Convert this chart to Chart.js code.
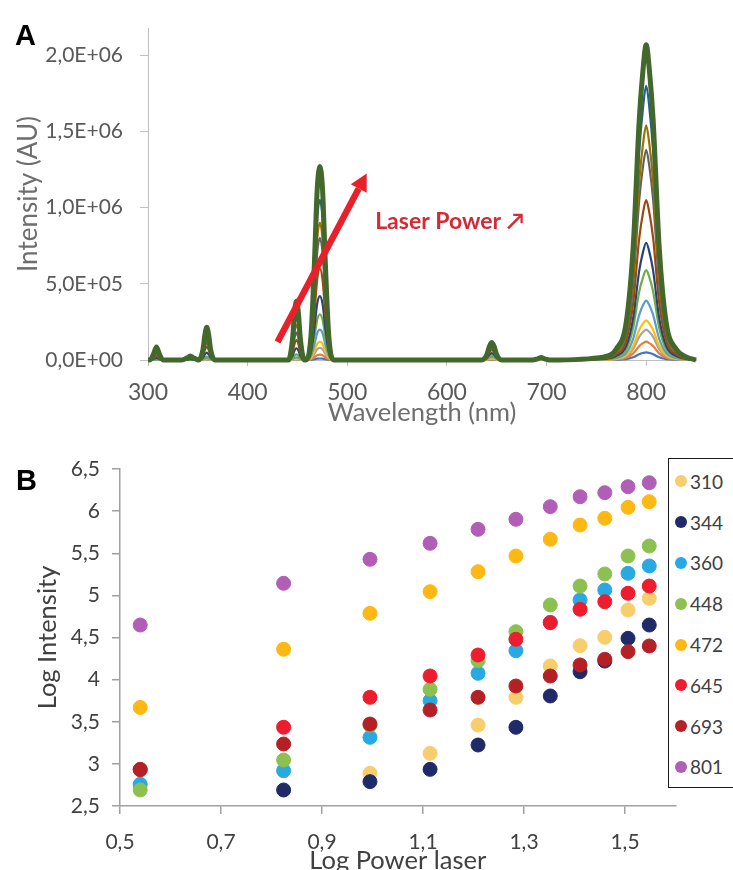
<!DOCTYPE html>
<html>
<head>
<meta charset="utf-8">
<script src="https://cdn.jsdelivr.net/npm/chart.js@4.4.1/dist/chart.umd.min.js"></script>
<style>
html,body{margin:0;padding:0;background:#fff;overflow:hidden;width:733px;height:870px;}
#wrap{position:relative;width:733px;height:870px;overflow:hidden;}
canvas{position:absolute;left:0;}
#cA{top:0;}
#cB{top:440px;}
.panel{position:absolute;font-family:"Liberation Sans",Arial,sans-serif;font-weight:bold;font-size:29px;color:#000;line-height:1;}
#legend{position:absolute;left:668px;top:458px;width:120px;height:330px;border:1.5px solid #1a1a1a;box-sizing:border-box;padding-top:2px;font-family:Lato,sans-serif;font-size:19px;color:#404040;background:#fff;}
.item{height:40.8px;display:flex;align-items:center;}
.dot{width:12px;height:12px;border-radius:50%;margin-left:6px;margin-right:3px;flex:none;}
</style>
</head>
<body>
<div id="wrap">
  <canvas id="cA" width="733" height="440"></canvas>
  <canvas id="cB" width="733" height="440"></canvas>
  <div class="panel" style="left:15px;top:21px;">A</div>
  <div class="panel" style="left:16px;top:466px;">B</div>
  <div id="legend"></div>
</div>
<script>
// ---------- Panel A data: emission spectra (wavelength in nm, intensity in AU) ----------
const wavelengths = [300,302,305.5,308.5,311.5,315, 334,339,342.5,346,350, 351,355,357.3,359,360.7,363,367, 400,
  441,445,447.3,449,450.7,453,457, 458.5,463.5,467,469.8,472.5,475.2,478,481.5,486.5, 500,600,
  635,640,642.8,645,647.2,650,655, 686,691,694.5,698,703,
  758,770,780,787,793,796.8,800,803.2,807,813,820,830,840,850];
const wavelengthTicks = [300,400,500,600,700,800];
const intensityTicksA = [0,500000,1000000,1500000,2000000];

const spectrum1 = [0,0,0,0,0,0, 0,0,0,0,0, 0,150,400,500,400,150,0, 0,
  0,175,425,500,425,175,0, 0,1200,5000,8800,10000,8800,5000,1200,0, 0,0,
  0,270,720,900,720,270,0, 0,400,800,400,0,
  500,1750,6000,18000,38000,46000,50000,46000,38000,18000,6000,1750,500,0];
const spectrum2 = [0,0,50,100,50,0, 0,250,500,250,25, 0,240,640,800,640,240,0, 0,
  0,400,950,1100,950,400,0, 0,4200,17500,30800,35000,30800,17500,4200,0, 0,0,
  0,800,2150,2700,2150,800,0, 0,750,1500,750,0,
  1200,4200,14400,43200,91200,110400,120000,110400,91200,43200,14400,4200,1200,0];
const spectrum3 = [0,0,360,800,360,0, 0,300,600,300,30, 0,600,1600,2000,1600,600,0, 0,
  0,1050,2550,3000,2550,1050,0, 0,9600,40000,70400,80000,70400,40000,9600,0, 0,0,
  0,1800,4800,6000,4800,1800,0, 0,1500,3000,1500,0,
  2000,7000,24000,72000,152000,184000,200000,184000,152000,72000,24000,7000,2000,0];
const spectrum4 = [0,0,600,1300,600,0, 0,450,900,450,45, 0,2000,5300,6600,5300,2000,0, 0,
  0,2700,6550,7700,6550,2700,0, 0,14400,60000,105600,120000,105600,60000,14400,0, 0,0,
  0,3300,8800,11000,8800,3300,0, 0,2000,4000,2000,0,
  2600,9100,31200,93600,197600,239200,260000,239200,197600,93600,31200,9100,2600,0];
const spectrum5 = [0,0,1350,3000,1350,0, 0,850,1700,850,85, 0,3600,9600,12000,9600,3600,0, 0,
  0,5950,14450,17000,14450,5950,0, 0,24000,100000,176000,200000,176000,100000,24000,0, 0,0,
  0,6000,16000,20000,16000,6000,0, 0,3000,6000,3000,0,
  3900,13650,46800,140400,296400,358800,390000,358800,296400,140400,46800,13650,3900,0];
const spectrum6 = [0,0,2700,6000,2700,0, 0,1350,2700,1350,135, 0,6600,17600,22000,17600,6600,0, 0,
  0,12950,31450,37000,31450,12950,0, 0,36000,150000,264000,300000,264000,150000,36000,0, 0,0,
  0,9000,24000,30000,24000,9000,0, 0,4000,8000,4000,0,
  5900,20650,70800,212400,448400,542800,590000,542800,448400,212400,70800,20650,5900,0];
const spectrum7 = [0,0,6300,14000,6300,0, 0,3000,6000,3000,300, 0,14400,38400,48000,38400,14400,0, 0,
  0,26950,65450,77000,65450,26950,0, 0,50400,210000,369600,420000,369600,210000,50400,0, 0,0,
  0,13500,36000,45000,36000,13500,0, 0,5000,10000,5000,0,
  7700,26950,92400,277200,585200,708400,770000,708400,585200,277200,92400,26950,7700,0];
const spectrum8 = [0,0,11250,25000,11250,0, 0,5500,11000,5500,550, 0,26400,70400,88000,70400,26400,0, 0,
  0,45500,110500,130000,110500,45500,0, 0,72000,300000,528000,600000,528000,300000,72000,0, 0,0,
  0,19500,52000,65000,52000,19500,0, 0,6000,12000,6000,0,
  10500,36750,126000,378000,798000,966000,1050000,966000,798000,378000,126000,36750,10500,0];
const spectrum9 = [0,0,14400,32000,14400,0, 0,7500,15000,7500,750, 0,34500,92000,115000,92000,34500,0, 0,
  0,63000,153000,180000,153000,63000,0, 0,96000,400000,704000,800000,704000,400000,96000,0, 0,0,
  0,24000,64000,80000,64000,24000,0, 0,7000,14000,7000,0,
  13800,48300,165600,496800,1048800,1269600,1380000,1269600,1048800,496800,165600,48300,13800,0];
const spectrum10 = [0,0,22500,50000,22500,0, 0,9000,18000,9000,900, 0,42000,112000,140000,112000,42000,0, 0,
  0,80500,195500,230000,195500,80500,0, 0,108000,450000,792000,900000,792000,450000,108000,0, 0,0,
  0,27000,72000,90000,72000,27000,0, 0,8000,16000,8000,0,
  15400,53900,184800,554400,1170400,1416800,1540000,1416800,1170400,554400,184800,53900,15400,0];
const spectrum11 = [0,0,29000,65000,29000,0, 0,11000,22000,11000,1100, 0,54000,144000,180000,144000,54000,0, 0,
  0,101500,246500,290000,246500,101500,0, 0,126000,525000,924000,1050000,924000,525000,126000,0, 0,0,
  0,31500,84000,105000,84000,31500,0, 0,9000,18000,9000,0,
  18000,63000,216000,648000,1368000,1656000,1800000,1656000,1368000,648000,216000,63000,18000,0];
const spectrum12 = [0,0,38000,85000,38000,0, 0,13000,26000,13000,1300, 0,64000,172000,215000,172000,64000,0, 0,
  0,135000,327000,385000,327000,135000,0, 0,152400,635000,1117600,1270000,1117600,635000,152400,0, 0,0,
  0,34500,92000,115000,92000,34500,0, 0,8000,16000,8000,0,
  20700,72450,248400,745200,1573200,1904400,2070000,1904400,1573200,745200,248400,72450,20700,0];

// ---------- Panel B data: log intensity vs log laser power ----------
const logPower = [0.54, 0.824, 0.995, 1.114, 1.209, 1.284, 1.352, 1.411, 1.460, 1.506, 1.548];
const peakLabels = ['310','344','360','448','472','645','693','801'];
const log310 = [null, null, 2.888, 3.125, 3.461, 3.79, 4.162, 4.403, 4.502, 4.826, 4.965];
const log344 = [null, 2.69, 2.789, 2.935, 3.224, 3.434, 3.806, 4.094, 4.22, 4.49, 4.648];
const log360 = [2.757, 2.919, 3.315, 3.75, 4.075, 4.343, 4.68, 4.945, 5.064, 5.262, 5.349];
const log448 = [2.69, 3.046, 3.46, 3.885, 4.225, 4.569, 4.886, 5.111, 5.254, 5.467, 5.586];
const log472 = [3.67, 4.36, 4.787, 5.044, 5.281, 5.467, 5.666, 5.835, 5.915, 6.045, 6.112];
const log645 = [2.93, 3.434, 3.79, 4.043, 4.292, 4.479, 4.676, 4.835, 4.925, 5.025, 5.111];
const log693 = [2.935, 3.236, 3.473, 3.639, 3.79, 3.924, 4.043, 4.174, 4.241, 4.332, 4.399];
const log801 = [4.648, 5.143, 5.428, 5.618, 5.784, 5.903, 6.053, 6.171, 6.219, 6.29, 6.337];
const powerTicks = [0.5, 0.7, 0.9, 1.1, 1.3, 1.5];
const logIntensityTicks = [2.5, 3, 3.5, 4, 4.5, 5, 5.5, 6, 6.5];

// ---------- styles ----------
const spectrumColors = ['#4472C4','#ED7D31','#A5A5A5','#FFC000','#5B9BD5','#70AD47','#264478','#9E480E','#636363','#997300','#255E91','#43682B'];
const peakColors = ['#F8CD6B','#1F2A68','#29A9E1','#8CC152','#FDB813','#ED1C2E','#B52025','#B15FB6'];

const spectra = [spectrum1,spectrum2,spectrum3,spectrum4,spectrum5,spectrum6,spectrum7,spectrum8,spectrum9,spectrum10,spectrum11,spectrum12];
const peakSeries = [log310,log344,log360,log448,log472,log645,log693,log801];

function sciComma(v){
  if (v === 0) return '0,0E+00';
  const parts = v.toExponential(1).split('e');
  const n = parseInt(parts[1],10);
  return parts[0].replace('.',',') + 'E' + (n<0?'-':'+') + String(Math.abs(n)).padStart(2,'0');
}
function comma(v){ return String(Number(v.toFixed(2))).replace('.',','); }

// annotation: red arrow + "Laser Power" label, placed in data coordinates
const laserArrow = {
  id: 'laserArrow',
  afterDatasetsDraw(chart){
    const {ctx, scales:{x,y}} = chart;
    const x0 = x.getPixelForValue(430), y0 = y.getPixelForValue(118000);
    const x1 = x.getPixelForValue(519.5), y1 = y.getPixelForValue(1225000);
    const ang = Math.atan2(y1-y0, x1-x0);
    const headLen = 17, headHalf = 9;
    const bx = x1 - headLen*Math.cos(ang), by = y1 - headLen*Math.sin(ang);
    ctx.save();
    ctx.strokeStyle = '#E8202A';
    ctx.fillStyle = '#E8202A';
    ctx.lineWidth = 6.5;
    ctx.lineCap = 'butt';
    ctx.beginPath(); ctx.moveTo(x0,y0); ctx.lineTo(bx,by); ctx.stroke();
    ctx.beginPath();
    ctx.moveTo(x1,y1);
    ctx.lineTo(bx + headHalf*Math.sin(ang), by - headHalf*Math.cos(ang));
    ctx.lineTo(bx - headHalf*Math.sin(ang), by + headHalf*Math.cos(ang));
    ctx.closePath(); ctx.fill();
    ctx.fillStyle = '#D42A35';
    ctx.font = 'bold 23px Lato, "DejaVu Sans", sans-serif';
    ctx.textAlign = 'left';
    ctx.textBaseline = 'middle';
    ctx.fillText('Laser Power \u2197', x.getPixelForValue(528), y.getPixelForValue(907000));
    ctx.restore();
  }
};

new Chart(document.getElementById('cA'), {
  type: 'line',
  data: {
    datasets: spectra.map((arr, i) => ({
      label: 'Spectrum ' + (i+1),
      data: wavelengths.map((w, j) => ({x: w, y: arr[j]})),
      borderColor: spectrumColors[i],
      backgroundColor: spectrumColors[i],
      borderWidth: i === spectra.length-1 ? 5 : 2.2,
      pointRadius: 0,
      tension: 0.4,
      cubicInterpolationMode: 'monotone',
      fill: false,
      clip: false,
      order: spectra.length - 1 - i
    }))
  },
  options: {
    responsive: false,
    animation: false,
    devicePixelRatio: 1,
    events: [],
    layout: {padding: {top: 28, right: 37, bottom: 12, left: 0}},
    plugins: {legend: {display: false}, tooltip: {enabled: false}},
    scales: {
      x: {
        type: 'linear', min: 300, max: 850,
        afterBuildTicks: a => { a.ticks = wavelengthTicks.map(v => ({value: v})); },
        afterFit: s => { s.height = 68; s.paddingLeft = 0; s.paddingRight = 0; },
        border: {color: '#BFBFBF', width: 1},
        grid: {drawOnChartArea: false, drawTicks: true, tickLength: 6, color: '#BFBFBF'},
        ticks: {color: '#595959', font: {family: 'Lato', size: 23}, padding: 13, maxRotation: 0, autoSkip: false},
        title: {display: true, text: 'Wavelength (nm)', color: '#6E6E6E', font: {family: 'Lato', size: 25.5}, padding: {top: 0, bottom: 0}}
      },
      y: {
        type: 'linear', min: 0, max: 2180000,
        afterBuildTicks: a => { a.ticks = intensityTicksA.map(v => ({value: v})); },
        afterFit: s => { s.width = 148; s.paddingTop = 0; s.paddingBottom = 0; },
        border: {color: '#BFBFBF', width: 1},
        grid: {drawOnChartArea: false, drawTicks: true, tickLength: 8, color: '#BFBFBF'},
        ticks: {color: '#595959', font: {family: 'Lato', size: 21}, padding: 17, callback: v => sciComma(v)},
        title: {display: true, text: 'Intensity (AU)', color: '#6E6E6E', font: {family: 'Lato', size: 26}, padding: {top: 13, bottom: 0}}
      }
    }
  },
  plugins: [laserArrow]
});

new Chart(document.getElementById('cB'), {
  type: 'scatter',
  data: {
    datasets: peakSeries.map((vals, i) => ({
      label: peakLabels[i],
      data: logPower.map((p, j) => vals[j] === null ? null : {x: p, y: vals[j]}).filter(d => d !== null),
      backgroundColor: peakColors[i],
      borderColor: peakColors[i],
      borderWidth: 1,
      pointRadius: 7,
      clip: false,
      order: peakSeries.length - 1 - i
    }))
  },
  options: {
    responsive: false,
    animation: false,
    devicePixelRatio: 1,
    events: [],
    layout: {padding: {top: 29, right: 57.5, bottom: 0, left: 0}},
    plugins: {legend: {display: false}, tooltip: {enabled: false}},
    scales: {
      x: {
        type: 'linear', min: 0.5, max: 1.6,
        afterBuildTicks: a => { a.ticks = powerTicks.map(v => ({value: v})); },
        afterFit: s => { s.height = 74; s.paddingLeft = 0; s.paddingRight = 0; },
        border: {color: '#A0A0A0', width: 1.5},
        grid: {drawOnChartArea: false, drawTicks: true, tickLength: 8, color: '#A0A0A0', lineWidth: 1.5},
        ticks: {color: '#404040', font: {family: 'Lato', size: 21}, padding: 16, maxRotation: 0, autoSkip: false, callback: v => comma(v)},
        title: {display: true, text: 'Log Power laser', color: '#404040', font: {family: 'Lato', size: 25.5}, padding: {top: 0, bottom: 4}}
      },
      y: {
        type: 'linear', min: 2.5, max: 6.5,
        afterBuildTicks: a => { a.ticks = logIntensityTicks.map(v => ({value: v})); },
        afterFit: s => { s.width = 120; s.paddingTop = 0; s.paddingBottom = 0; },
        border: {color: '#A0A0A0', width: 1.5},
        grid: {drawOnChartArea: false, drawTicks: true, tickLength: 8, color: '#A0A0A0', lineWidth: 1.5},
        ticks: {color: '#404040', font: {family: 'Lato', size: 21}, padding: 12, callback: v => comma(v)},
        title: {display: true, text: 'Log Intensity', color: '#404040', font: {family: 'Lato', size: 25.5}, padding: {top: 32, bottom: 0}}
      }
    }
  }
});

// legend for panel B (built from the series labels and colours)
const legendEl = document.getElementById('legend');
peakLabels.forEach((lab, i) => {
  const row = document.createElement('div');
  row.className = 'item';
  const dot = document.createElement('span');
  dot.className = 'dot';
  dot.style.background = peakColors[i];
  const txt = document.createElement('span');
  txt.textContent = lab;
  row.appendChild(dot); row.appendChild(txt);
  legendEl.appendChild(row);
});
</script>
</body>
</html>
